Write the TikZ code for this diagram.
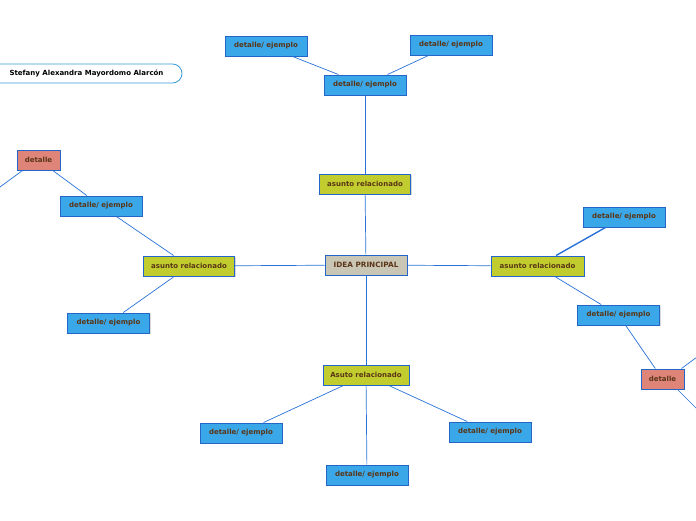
\documentclass[tikz,border=0pt]{standalone}
\usepackage{fontspec}
\setmainfont{DejaVu Sans}
\usetikzlibrary{shadows}
\definecolor{bluefill}{HTML}{3AA8E8}
\definecolor{boxedge}{HTML}{2366C8}
\definecolor{olive}{HTML}{C1CD2F}
\definecolor{ideafill}{HTML}{CAC6B6}
\definecolor{redfill}{HTML}{DF8479}
\definecolor{txt}{HTML}{5A3516}
\definecolor{linkc}{HTML}{2A72DA}
\definecolor{titleedge}{HTML}{3A9ADA}
\tikzset{
  base/.style={draw=boxedge, line width=1pt, minimum height=20pt, inner sep=0pt,
    font=\fontsize{7}{8}\selectfont\bfseries, text=txt,
    drop shadow={shadow xshift=1pt, shadow yshift=-1pt, opacity=0.15, fill=black}},
  det/.style={base, fill=bluefill, minimum width=82pt},
  asu/.style={base, fill=olive, minimum width=91pt},
  idea/.style={base, fill=ideafill, minimum width=82pt, font=\fontsize{7.3}{8}\selectfont\bfseries},
  redb/.style={base, fill=redfill, minimum width=43pt},
  link/.style={draw=linkc, line width=0.7pt},
  thicklink/.style={draw=linkc, line width=1.4pt}
}
\begin{document}
\begin{tikzpicture}[x=1pt,y=-1pt]
\useasboundingbox[fill=white] (0,0) rectangle (696,520);
% title
\draw[titleedge, line width=0.8pt, fill=white, rounded corners=9.5pt] (-12,64) rectangle (182,83);
\node[font=\fontsize{7}{8}\selectfont\bfseries, text=black] (title) at (86.5,73.5) {Stefany Alexandra Mayordomo Alarcón};
% nodes
\node[idea] (idea) at (366,265) {IDEA PRINCIPAL};
\node[asu] (at) at (365,184) {asunto relacionado};
\node[det] (tm) at (365,85) {detalle/ ejemplo};
\node[det] (tl) at (266,46) {detalle/ ejemplo};
\node[det] (tr) at (451,45) {detalle/ ejemplo};
\node[asu] (al) at (189,266) {asunto relacionado};
\node[det] (lu) at (101,206) {detalle/ ejemplo};
\node[det] (ll) at (108.5,323) {detalle/ ejemplo};
\node[redb] (rl) at (38.5,160) {detalle};
\node[asu, minimum width=93pt] (ar) at (537.5,266) {asunto relacionado};
\node[det] (ru) at (624,217) {detalle/ ejemplo};
\node[det] (rd) at (618.5,315) {detalle/ ejemplo};
\node[redb] (rr) at (662.5,379) {detalle};
\node[asu, minimum width=86pt] (ab) at (366,375) {Asuto relacionado};
\node[det] (bl) at (241,433) {detalle/ ejemplo};
\node[det] (bm) at (367,475) {detalle/ ejemplo};
\node[det] (br) at (490,432) {detalle/ ejemplo};
\coordinate (e1) at (0,187);
\coordinate (e2) at (697,357);
\coordinate (e3) at (697,409);
% connectors
\draw[link] (tm) -- (tl);
\draw[link] (tm) -- (tr);
\draw[link] (tm) -- (at);
\draw[link] (at) -- (idea);
\draw[link] (idea) -- (al);
\draw[link] (al) -- (lu);
\draw[link] (al) -- (ll);
\draw[link] (lu) -- (rl);
\draw[link] (rl.south west) ++(6,0) coordinate (rlo) -- (e1);
\draw[link] (idea) -- (ar);
\draw[thicklink] (ar) -- (ru);
\draw[link] (ar) -- (rd);
\draw[link] (rd) -- (rr);
\draw[link] (rr.north east) ++(-3,0) coordinate (rro) -- (e2);
\draw[link] (rr.south east) ++(-7,0) coordinate (rru) -- (e3);
\draw[link] (idea) -- (ab);
\draw[link] (ab) -- (bl);
\draw[link] (ab) -- (bm);
\draw[link] (ab) -- (br);
\end{tikzpicture}
\end{document}
